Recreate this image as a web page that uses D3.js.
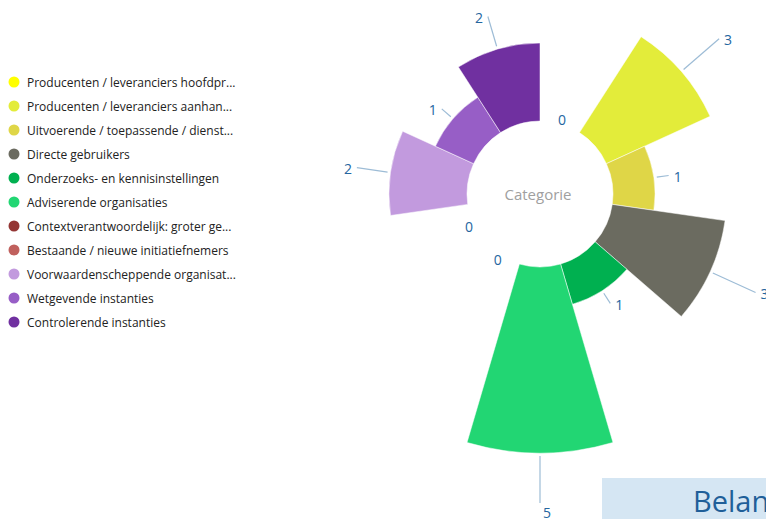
<!DOCTYPE html>
<html>
<head>
<meta charset="utf-8">
<script src="https://cdn.jsdelivr.net/npm/d3@7"></script>
<style>
    body { margin: 0; background: #fff; overflow: hidden; }
    #chart { width: 766px; height: 519px; position: relative; }
</style>
</head>
<body>
<div id="chart"></div>
<script>
// DATA
// ================================================================================== //

const categories = [
    "Producenten / leveranciers hoofdpr...",
    "Producenten / leveranciers aanhan...",
    "Uitvoerende / toepassende / dienst...",
    "Directe gebruikers",
    "Onderzoeks- en kennisinstellingen",
    "Adviserende organisaties",
    "Contextverantwoordelijk: groter ge...",
    "Bestaande / nieuwe initiatiefnemers",
    "Voorwaardenscheppende organisat...",
    "Wetgevende instanties",
    "Controlerende instanties"
]

const values = [0, 3, 1, 3, 1, 5, 0, 0, 2, 1, 2]

const colors = [
    "#ffff00", "#e3ec3a", "#dfd647", "#6b6b60", "#00b050", "#22d673",
    "#943634", "#c0605d", "#c29ade", "#975ec6", "#7030a0"
]

const centerLabel = "Categorie"
const cornerTitle = "Belanghebbenden"

// ================================================================================== //
// DATA END


const width = 766
const height = 519
const cx = 540
const cy = 194
const innerRadius = 73

const svg = d3.select("#chart")
    .append("svg")
    .attr("width", width)
    .attr("height", height)
    .attr("viewBox", [0, 0, width, height])

const data = categories.map((c, i) => ({ name: c, value: values[i], color: colors[i], i }))

// one equal slice per category, starting at 12 o'clock
const angle = d3.scaleBand()
    .domain(d3.range(categories.length))
    .range([0, 2 * Math.PI])

const r = d3.scaleLinear()
    .domain([0, 5])
    .range([79, 259])

const arc = d3.arc()
    .innerRadius(innerRadius)
    .outerRadius(d => r(d.value))
    .startAngle(d => angle(d.i))
    .endAngle(d => angle(d.i) + angle.bandwidth())

const g = svg.append("g")
    .attr("transform", `translate(${cx},${cy})`)

g.selectAll("path.bar")
    .data(data.filter(d => d.value > 0))
    .join("path")
    .attr("class", "bar")
    .attr("d", arc)
    .attr("fill", d => d.color)
    .attr("stroke", "#fff")
    .attr("stroke-width", 0.5)

g.append("text")
    .attr("x", -2)
    .attr("text-anchor", "middle")
    .attr("dominant-baseline", "central")
    .attr("style", "font-size: 15px; font-family: 'Open Sans', sans-serif; fill: #a0a0a0")
    .text(centerLabel)

// value labels with connector lines
const midAngle = d => angle(d.i) + angle.bandwidth() / 2
const lineLength = v => v === 0 ? 0 : Math.min(12 + 19 * (v - 1), 47)
const polar = (a, rad) => [Math.sin(a) * rad, -Math.cos(a) * rad]
const lineEnd = d => polar(midAngle(d), r(d.value) + 3 + lineLength(d.value))

// labels sit beside the end of the connector, left or right depending on side
const labelPos = d => {
    const a = midAngle(d)
    if (d.value === 0) return polar(a, r(0) - 1)
    const [x, y] = lineEnd(d)
    const side = Math.sin(a) < -0.01 ? -1 : 1
    const down = Math.pow(Math.max(0, -Math.cos(a)), 20)
    return [x + side * (9 - 2 * down), y + 1 + 8 * down]
}

g.selectAll("line.conn")
    .data(data.filter(d => d.value > 0))
    .join("line")
    .attr("class", "conn")
    .attr("x1", d => polar(midAngle(d), r(d.value) + 3)[0])
    .attr("y1", d => polar(midAngle(d), r(d.value) + 3)[1])
    .attr("x2", d => lineEnd(d)[0])
    .attr("y2", d => lineEnd(d)[1])
    .attr("stroke", "#9dbcd6")
    .attr("stroke-width", 1.2)

g.selectAll("text.val")
    .data(data)
    .join("text")
    .attr("class", "val")
    .attr("x", d => labelPos(d)[0])
    .attr("y", d => labelPos(d)[1])
    .attr("text-anchor", "middle")
    .attr("dominant-baseline", "central")
    .attr("style", "font-size: 14px; font-family: 'Open Sans', sans-serif; fill: #25669f")
    .text(d => d.value)

// LEGEND
const legend = svg.append("g")
    .attr("transform", "translate(14,82)")

const rows = legend.selectAll("g")
    .data(data)
    .join("g")
    .attr("transform", (d, i) => `translate(0,${i * 24})`)

rows.append("circle")
    .attr("r", 5.5)
    .attr("fill", d => d.color)

rows.append("text")
    .attr("x", 13)
    .attr("dominant-baseline", "central")
    .attr("style", "font-size: 12px; font-family: 'Open Sans', sans-serif; fill: #222")
    .text(d => d.name)

// corner title box (cut off by the window edge)
svg.append("rect")
    .attr("x", 602)
    .attr("y", 478)
    .attr("width", 200)
    .attr("height", 50)
    .attr("fill", "#d5e6f3")

svg.append("text")
    .attr("x", 693)
    .attr("y", 512)
    .attr("style", "font-size: 29px; font-family: 'Open Sans', sans-serif; fill: #1f5f99")
    .text(cornerTitle)
</script>
</body>
</html>
